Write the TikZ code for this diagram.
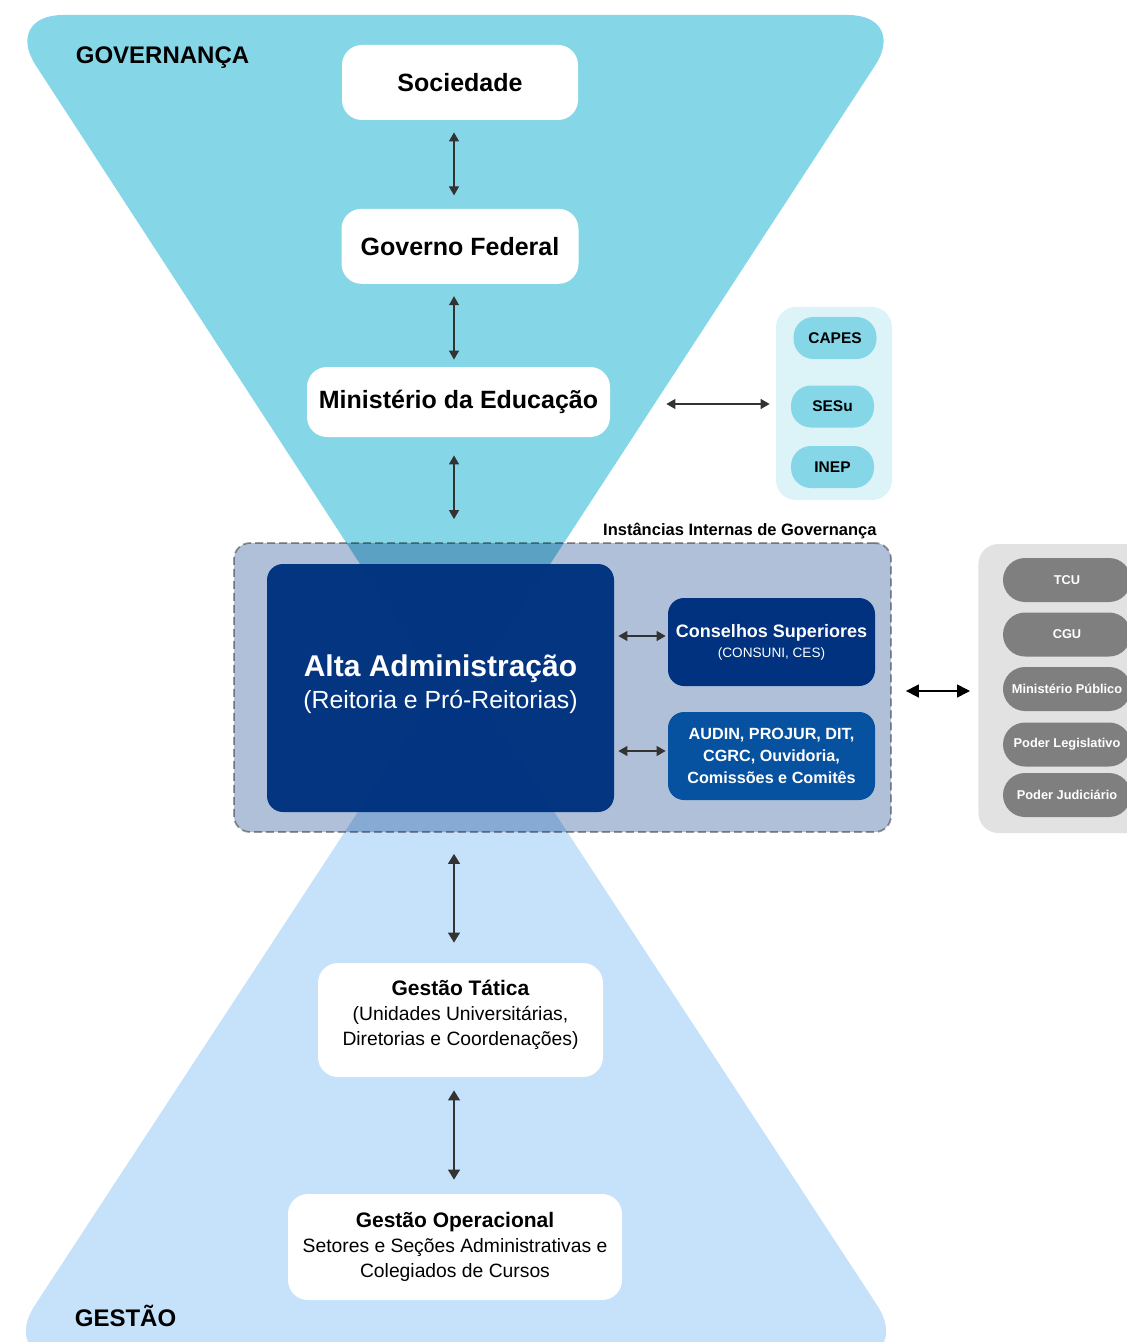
\documentclass[tikz,border=0pt]{standalone}
\usepackage{fontspec}
\setmainfont{Liberation Sans}
\usetikzlibrary{positioning,arrows.meta}

\definecolor{govcyan}{HTML}{85D7E8}
\definecolor{gestblue}{HTML}{C6E2FB}
\definecolor{instgray}{HTML}{AFC0D8}
\definecolor{altanavy}{HTML}{00327F}
\definecolor{audinblue}{HTML}{0652A0}
\definecolor{agencybg}{HTML}{DCF3F8}
\definecolor{extbg}{HTML}{E2E2E2}
\definecolor{extgray}{HTML}{7F7F7F}

\begin{document}
\begin{tikzpicture}[
    x=0.5pt, y=-0.5pt,
    whitebox/.style={fill=white, rounded corners=10pt, align=center, inner sep=0pt},
    darkbox/.style={rounded corners=8pt, align=center, inner sep=0pt, text=white,
        minimum width=103.5pt, minimum height=44pt},
    agency/.style={fill=govcyan, rounded corners=10pt, inner sep=0pt,
        minimum width=41.5pt, minimum height=21pt, font=\fontsize{7.75}{9}\selectfont\bfseries},
    control/.style={fill=extgray, text=white, rounded corners=11pt, inner sep=0pt,
        minimum width=64pt, minimum height=22pt, font=\fontsize{6.4}{8}\selectfont\bfseries},
    link/.style={<->, draw=black!80, line width=0.6pt},
    biglink/.style={<->, draw=black, line width=0.8pt,
        >={Stealth[inset=0pt, length=6.5pt, width=6.5pt]}},
    >={Stealth[inset=0pt, length=4.5pt, width=5pt]}
]
    \useasboundingbox (0,0) rectangle (1127,1342);

    % funnels
    \fill[govcyan, rounded corners=30pt] (3,15) -- (908,15) -- (455,710) -- cycle;
    \fill[gestblue, rounded corners=33pt] (456,662) -- (-1,1360) -- (913,1360) -- cycle;

    \node[font=\fontsize{12}{14}\selectfont\bfseries] (govlabel) at (162.5,58) {GOVERNANÇA};
    \node[font=\fontsize{12}{14}\selectfont\bfseries] (gestlabel) at (125.5,1316) {GESTÃO};

    % governance chain
    \node[whitebox, minimum width=118pt, minimum height=37.5pt,
        font=\fontsize{12.5}{15}\selectfont\bfseries] (soc) at (460,82.5) {Sociedade};
    \node[whitebox, minimum width=118.5pt, minimum height=37.5pt,
        font=\fontsize{12.5}{15}\selectfont\bfseries] (gov) [below=44pt of soc] {Governo Federal};
    \node[whitebox, minimum width=151.5pt, minimum height=35pt,
        font=\fontsize{12.5}{15}\selectfont\bfseries] (mec) at (458.5,402) {Ministério da Educação};

    % MEC agencies
    \node[fill=agencybg, rounded corners=10pt, minimum width=58pt, minimum height=96.5pt] (agencies) at (834,403.5) {};
    \node[agency] (capes) at (835,338) {CAPES};
    \node[agency] (sesu) at (832.5,406.5) {SESu};
    \node[agency] (inep) at (832.5,467) {INEP};

    % internal instances
    \begin{scope}[blend mode=multiply]
        \node[fill=instgray, draw=black!38, dash pattern=on 4pt off 2pt, line width=0.9pt,
            rounded corners=8pt, inner sep=0pt, minimum width=328.5pt, minimum height=144.5pt] (inst) at (562.5,687.5) {};
    \end{scope}
    \node[anchor=south east, inner sep=0pt, font=\fontsize{8.25}{10}\selectfont\bfseries] (instlabel)
        at ([xshift=-7.5pt, yshift=1.5pt]inst.north east) {Instâncias Internas de Governança};

    \node[fill=altanavy, fill opacity=0.975, text opacity=1, text=white, rounded corners=8pt,
        minimum width=173.5pt, minimum height=124pt, align=center, inner sep=0pt] (alta) at (440.5,688)
        {{\fontsize{15}{16.5}\selectfont\bfseries Alta Administração}\\[2.5pt]
         {\fontsize{12.4}{14}\selectfont (Reitoria e Pró-Reitorias)}\\[-5.5pt]};
    \node[darkbox, fill=altanavy] (cons) at (771.5,642)
        {{\fontsize{9}{10.5}\selectfont\bfseries Conselhos Superiores}\\[-2pt]
         {\fontsize{6.8}{8}\selectfont (CONSUNI, CES)}};
    \node[darkbox, fill=audinblue, font=\fontsize{8.1}{11}\selectfont\bfseries] (audin) at (771.5,756)
        {AUDIN, PROJUR, DIT,\\CGRC, Ouvidoria,\\Comissões e Comitês};

    % external control
    \node[fill=extbg, rounded corners=10pt, minimum width=91pt, minimum height=144.5pt, anchor=west] (ext) at (978,688.5) {};
    \node[control] (tcu) at (1067,580) {TCU};
    \node[control] (cgu) at (1067,634.5) {CGU};
    \node[control] (mp) at (1067,689) {Ministério Público};
    \node[control] (legis) at (1067,744.5) {Poder Legislativo};
    \node[control] (judic) at (1067,795) {Poder Judiciário};

    % management chain
    \node[whitebox, minimum width=142.5pt, minimum height=57pt,
        font=\fontsize{9.65}{12.5}\selectfont] (tat) at (460.5,1020)
        {{\fontsize{10.5}{12.5}\selectfont\bfseries Gestão Tática}\\
         (Unidades Universitárias,\\ Diretorias e Coordenações)\\[-5.5pt]};
    \node[whitebox, minimum width=167pt, minimum height=53pt,
        font=\fontsize{9.65}{12.5}\selectfont] (ope) at (455,1247)
        {{\fontsize{10.5}{12.5}\selectfont\bfseries Gestão Operacional}\\
         Setores e Seções Administrativas e\\ Colegiados de Cursos};

    % connectors
    \coordinate (axis) at (454,0);
    \draw[link, shorten <=6pt, shorten >=6.5pt] (soc.south -| axis) -- (gov.north -| axis);
    \draw[link, shorten <=6pt, shorten >=3.5pt] (gov.south -| axis) -- (mec.north -| axis);
    \draw[link, shorten <=9pt, shorten >=11.5pt] (mec.south -| axis) -- (inst.north -| axis);
    \draw[link, shorten <=28pt, shorten >=3pt] ([yshift=-1pt]mec.east) -- ([yshift=-1pt]mec.east -| agencies.west);
    \draw[link, shorten <=2pt, shorten >=1pt] ([yshift=3pt]cons.west -| alta.east) -- ([yshift=3pt]cons.west);
    \draw[link, shorten <=2pt, shorten >=1pt] ([yshift=2.5pt]audin.west -| alta.east) -- ([yshift=2.5pt]audin.west);
    \draw[biglink, shorten <=7pt, shorten >=4pt] ([yshift=-1.75pt]inst.east) -- ([yshift=-1.75pt]inst.east -| ext.west);
    \draw[link, >={Stealth[inset=0pt, length=5pt, width=6pt]}, shorten <=10.5pt, shorten >=10pt]
        (inst.south -| axis) -- (tat.north -| axis);
    \draw[link, >={Stealth[inset=0pt, length=5pt, width=6pt]}, shorten <=6.5pt, shorten >=7pt]
        (tat.south -| axis) -- (ope.north -| axis);
\end{tikzpicture}
\end{document}
